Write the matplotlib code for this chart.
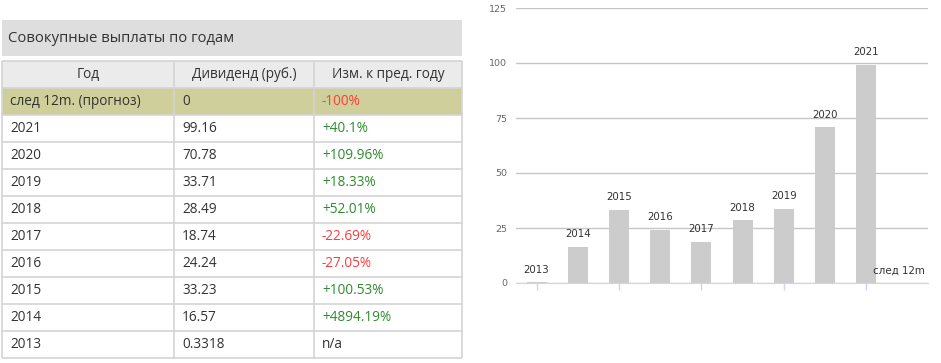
import matplotlib
matplotlib.use("Agg")
import matplotlib.pyplot as plt
from matplotlib.patches import Rectangle

plt.rcParams['font.family'] = ['Open Sans', 'DejaVu Sans']

title = "Совокупные выплаты по годам"
headers = ["Год", "Дивиденд (руб.)", "Изм. к пред. году"]
row_labels = ["след 12m. (прогноз)", "2021", "2020", "2019", "2018", "2017",
              "2016", "2015", "2014", "2013"]
dividends = ["0", "99.16", "70.78", "33.71", "28.49", "18.74", "24.24",
             "33.23", "16.57", "0.3318"]
changes = ["-100%", "+40.1%", "+109.96%", "+18.33%", "+52.01%", "-22.69%",
           "-27.05%", "+100.53%", "+4894.19%", "n/a"]

categories = ["2013", "2014", "2015", "2016", "2017", "2018", "2019", "2020",
              "2021", "след 12m"]
values = [0.3318, 16.57, 33.23, 24.24, 18.74, 28.49, 33.71, 70.78, 99.16, 0]
yticks = [0, 25, 50, 75, 100, 125]

W, H = 941, 363
fig = plt.figure(figsize=(W / 100, H / 100), dpi=100)

# ---------- table (pixel coordinates) ----------
tab = fig.add_axes([0, 0, 1, 1])
tab.set_xlim(0, W)
tab.set_ylim(H, 0)
tab.axis('off')

txt = '#333333'
border = '#d4d4d4'
tfs = 9.8
tab.add_patch(Rectangle((2, 20), 460, 36, facecolor='#dedede', edgecolor='none'))
tab.text(8, 38.5, title, fontsize=10.7, color=txt, va='center', ha='left')

col_x = [2, 174, 314, 462]
top = 61
hh = 27
nrows = len(row_labels) + 1
tab.add_patch(Rectangle((2, top), 460, hh, facecolor='#ebebeb', edgecolor='none'))
tab.add_patch(Rectangle((2, top + hh), 460, hh, facecolor='#cfcf9c', edgecolor='none'))
for i, h in enumerate(headers):
    tab.text((col_x[i] + col_x[i + 1]) / 2, top + hh / 2, h, fontsize=tfs,
             color=txt, ha='center', va='center')
for r in range(len(row_labels)):
    yc = top + hh * (r + 1) + hh / 2
    tab.text(10, yc, row_labels[r], fontsize=tfs, color=txt, va='center', ha='left')
    tab.text(182, yc, dividends[r], fontsize=tfs, color=txt, va='center', ha='left')
    ch = changes[r]
    c = '#ff3b3b' if ch.startswith('-') else ('#2e8b2e' if ch.startswith('+') else txt)
    tab.text(322, yc, ch, fontsize=tfs, color=c, va='center', ha='left')
for r in range(nrows + 1):
    y = top + hh * r
    tab.plot([2, 462], [y, y], color=border, lw=1.2, solid_capstyle='butt')
for x in col_x:
    tab.plot([x, x], [top, top + hh * nrows], color=border, lw=1.2, solid_capstyle='butt')

# ---------- bar chart ----------
left, right, y0, ytop = 516, 928, 283, 8
ax = fig.add_axes([left / W, (H - y0) / H, (right - left) / W, (y0 - ytop) / H])
xs = list(range(len(categories)))
ax.bar(xs, values, width=0.49, color='#cccccc', zorder=2)
ax.set_xlim(-0.5, len(categories) - 0.5)
ax.set_ylim(0, 125)
ax.set_yticks(yticks)
ax.set_yticklabels([str(t) for t in yticks], family='DejaVu Sans')
ax.tick_params(axis='y', length=0, colors='#666666', labelsize=6.8, pad=6.5)
ax.set_xticks(xs[::2])
ax.set_xticklabels([])
ax.tick_params(axis='x', length=5, color='#ccd6eb', width=1)
ax.grid(axis='y', color='#c6c6c6', lw=1, zorder=0)
for s in ['top', 'right', 'left']:
    ax.spines[s].set_visible(False)
ax.spines['bottom'].set_color('#ccd6eb')
ax.spines['bottom'].set_zorder(3)
for i, (c, v) in enumerate(zip(categories, values)):
    dx = -6 if i == len(categories) - 1 else 0
    ax.annotate(c, (i, v), xytext=(dx, 9), textcoords='offset points',
                ha='center', va='center', fontsize=7.4, color='#333333',
                family='DejaVu Sans')

fig.savefig('out.png', dpi=100)
